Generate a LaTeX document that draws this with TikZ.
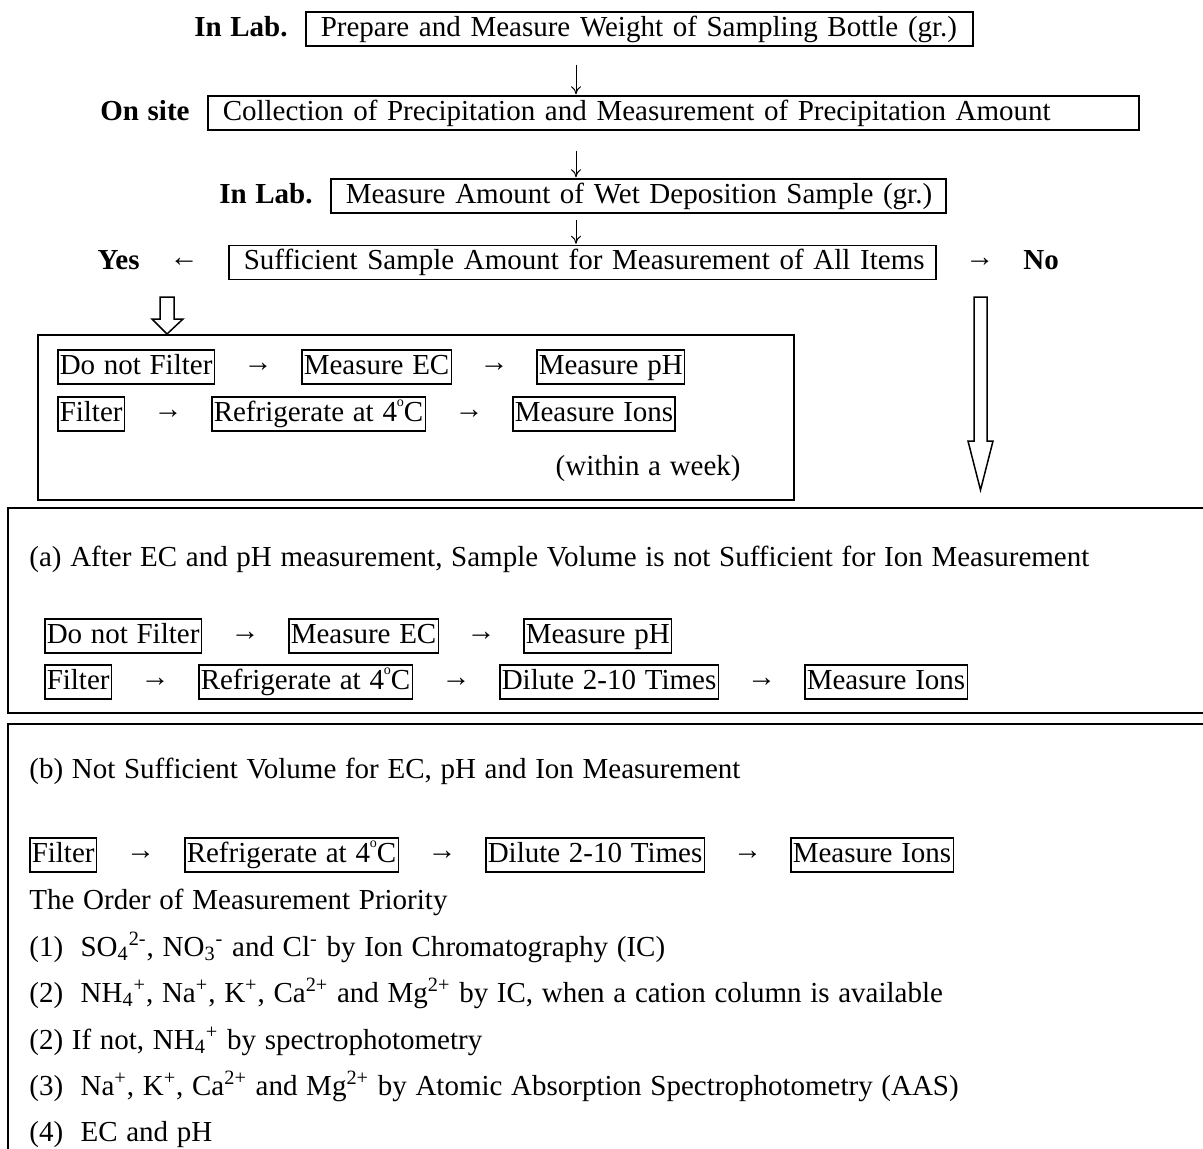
\documentclass[tikz,border=0pt]{standalone}
\usepackage{fontspec}
\setmainfont{Liberation Serif}[WordSpace=1.2]
\usetikzlibrary{positioning,arrows.meta}
\newcommand{\degre}{\raisebox{0.5em}{\fontsize{7}{7}\selectfont o}}

\begin{document}
\begin{tikzpicture}[x=0.5pt,y=-0.5pt,font=\fontsize{14.5}{17}\selectfont]
\tikzset{cadre/.style={draw, line width=0.75pt, inner xsep=7.5pt, inner ysep=0.5pt, text height=11.5pt, text depth=4.5pt, align=left},
  petit/.style={draw, line width=0.75pt, inner xsep=1pt, inner ysep=0.5pt, text height=11.5pt, text depth=4.5pt},
  etiq/.style={font=\fontsize{14.5}{17}\selectfont\bfseries, inner sep=0pt, text height=11.5pt, text depth=4.5pt},
  glyphe/.style={inner sep=0pt},
  ligne/.style={anchor=base west, inner sep=0pt},
  descente/.style={-{To[length=4pt,width=5pt]}, line width=0.5pt},
  creux/.style={draw, line width=0.75pt},
  bloc/.style={line width=1.2pt}}
\useasboundingbox (0,0) rectangle (1203,1148);
% upper chain
\node[cadre, anchor=west, text width=318.5pt] (prep) at (305,29) {\mbox{Prepare and Measure Weight of Sampling Bottle (gr.)}};
\node[etiq, left=8.5pt of prep] (lab1) {In Lab.};
\node[cadre, anchor=west, text width=450.5pt] (site) at (207,113) {\mbox{Collection of Precipitation and Measurement of Precipitation Amount}};
\node[etiq, left=8.5pt of site] (onsite) {On site};
\node[cadre, anchor=west, text width=292.5pt] (mesure) at (330,196) {\mbox{Measure Amount of Wet Deposition Sample (gr.)}};
\node[etiq, left=8.5pt of mesure] (lab2) {In Lab.};
\node[cadre, anchor=west, text width=338.5pt] (suff) at (228,262.5) {\mbox{Sufficient Sample Amount for Measurement of All Items}};
\node[etiq, anchor=east] (oui) at (140,262.5) {Yes};
\node[etiq, anchor=west] (non) at (1023,262.5) {No};
\path (oui) -- node[glyphe] {←} (suff);
\path (suff) -- node[glyphe] {→} (non);
\coordinate (axe) at (576,0);
\draw[descente, shorten <=9pt, shorten >=0.5pt] (prep.south -| axe) -- (site.north -| axe);
\draw[descente, shorten <=10pt, shorten >=0.5pt] (site.south -| axe) -- (mesure.north -| axe);
\draw[descente, shorten <=3pt, shorten >=0.5pt] (mesure.south -| axe) -- (suff.north -| axe);
% hollow arrows
\draw[creux] (160,297) -- (174,297) -- (174,319) -- (183,319) -- (167,334) -- (152,319) -- (160,319) -- cycle;
\draw[creux] (974,297) -- (987,297) -- (987,441) -- (993,441) -- (980.5,490) -- (968,441) -- (974,441) -- cycle;
% yes box
\node[draw, line width=0.75pt, anchor=north west, minimum width=378pt, minimum height=82.5pt, inner sep=0pt] (boiteoui) at (37,334) {};
\node[petit, anchor=west] (oui1) at (57,367) {Do not Filter};
\node[petit, anchor=west] (oui2) at (301,367) {Measure EC};
\node[petit, anchor=west] (oui3) at (536,367) {Measure pH\ };
\node[petit, anchor=west] (oui4) at (57,414) {Filter};
\node[petit, anchor=west] (oui5) at (211,414) {Refrigerate at 4\degre C};
\node[petit, anchor=west] (oui6) at (512,414) {Measure Ions};
\path (oui1) -- node[glyphe] {→} (oui2);
\path (oui2) -- node[glyphe] {→} (oui3);
\path (oui4) -- node[glyphe] {→} (oui5);
\path (oui5) -- node[glyphe] {→} (oui6);
\node[anchor=east, inner sep=0pt] (semaine) at (741,469) {(within a week)};
% case (a)
\draw[bloc] (1210,508) -- (8,508) -- (8,713) -- (1210,713);
\node[ligne] (titrea) at (29,566) {(a) After EC and pH measurement, Sample Volume is not Sufficient for Ion Measurement};
\node[petit, anchor=west] (a1) at (44,636) {Do not Filter};
\node[petit, anchor=west] (a2) at (288,636) {Measure EC};
\node[petit, anchor=west] (a3) at (523,636) {Measure pH};
\node[petit, anchor=west] (a4) at (44,682) {Filter};
\node[petit, anchor=west] (a5) at (198,682) {Refrigerate at 4\degre C};
\node[petit, anchor=west] (a6) at (499,682) {Dilute 2-10 Times};
\node[petit, anchor=west] (a7) at (804,682) {Measure Ions};
\path (a1) -- node[glyphe] {→} (a2);
\path (a2) -- node[glyphe] {→} (a3);
\path (a4) -- node[glyphe] {→} (a5);
\path (a5) -- node[glyphe] {→} (a6);
\path (a6) -- node[glyphe] {→} (a7);
% case (b)
\draw[bloc] (1210,724) -- (8,724) -- (8,1160);
\node[ligne] (titreb) at (29,778) {(b) Not Sufficient Volume for EC, pH and Ion Measurement};
\node[petit, anchor=west] (b1) at (29,855) {Filter};
\node[petit, anchor=west] (b2) at (184,855) {Refrigerate at 4\degre C};
\node[petit, anchor=west] (b3) at (485,855) {Dilute 2-10 Times};
\node[petit, anchor=west] (b4) at (790,855) {Measure Ions};
\path (b1) -- node[glyphe] {→} (b2);
\path (b2) -- node[glyphe] {→} (b3);
\path (b3) -- node[glyphe] {→} (b4);
\node[ligne] (ordre) at (29,909) {The Order of Measurement Priority};
\node[ligne] (prio1) at (29,956) {(1)\ \ SO\textsubscript{4}\textsuperscript{2-}, NO\textsubscript{3}\textsuperscript{-} and Cl\textsuperscript{-} by Ion Chromatography (IC)};
\node[ligne] (prio2) at (29,1002) {(2)\ \ NH\textsubscript{4}\textsuperscript{+}, Na\textsuperscript{+}, K\textsuperscript{+}, Ca\textsuperscript{2+} and Mg\textsuperscript{2+} by IC, when a cation column is available};
\node[ligne] (prio2b) at (29,1049) {(2) If not, NH\textsubscript{4}\textsuperscript{+} by spectrophotometry};
\node[ligne] (prio3) at (29,1095) {(3)\ \ Na\textsuperscript{+}, K\textsuperscript{+}, Ca\textsuperscript{2+} and Mg\textsuperscript{2+} by Atomic Absorption Spectrophotometry (AAS)};
\node[ligne] (prio4) at (29,1141) {(4)\ \ EC and pH};
\end{tikzpicture}
\end{document}
